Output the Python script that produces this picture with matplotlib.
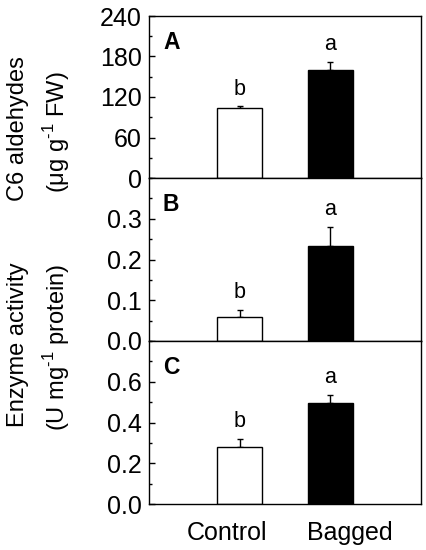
import matplotlib
matplotlib.use("Agg")
import matplotlib.pyplot as plt
import matplotlib.transforms as mtransforms
from matplotlib.ticker import MultipleLocator, FormatStrFormatter

plt.rcParams['font.family'] = ['Liberation Sans', 'DejaVu Sans']
plt.rcParams['mathtext.fontset'] = 'custom'
plt.rcParams['mathtext.rm'] = 'Liberation Sans'

categories = ["Control", "Bagged"]
aldehydes = [104, 160]
aldehydes_err = [2, 12]
enzyme_b = [0.059, 0.233]
enzyme_b_err = [0.016, 0.047]
enzyme_c = [0.279, 0.498]
enzyme_c_err = [0.042, 0.036]
letters_a = ["b", "a"]
letters_b = ["b", "a"]
letters_c = ["b", "a"]
panel_labels = ["A", "B", "C"]

fig = plt.figure(figsize=(4.26, 5.5), dpi=100)
W, H = 426, 550
left, right = 149, 421
tops = [16, 178, 341]
bottoms = [178, 341, 504]

panels = [
    (aldehydes, aldehydes_err, letters_a, 240, 60, "%d"),
    (enzyme_b, enzyme_b_err, letters_b, 0.4, 0.1, "%.1f"),
    (enzyme_c, enzyme_c_err, letters_c, 0.8, 0.2, "%.1f"),
]

x = list(range(len(categories)))
axes = []
for i, (vals, errs, lets, ymax, step, fmt) in enumerate(panels):
    ax = fig.add_axes([left / W, 1 - bottoms[i] / H, (right - left) / W,
                       (bottoms[i] - tops[i]) / H])
    axes.append(ax)
    ax.bar(x, vals, width=0.5, color=["white", "black"], edgecolor="black",
           linewidth=1.0, zorder=2)
    ax.errorbar(x, vals, yerr=[[0] * len(errs), errs], fmt="none",
                ecolor="black", elinewidth=1.0, capsize=2.5, capthick=1.0,
                zorder=1)
    for xi, v, e, l in zip(x, vals, errs, lets):
        ax.annotate(l, xy=(xi, v + e), xytext=(0, 5), textcoords="offset points",
                    ha="center", va="bottom", fontsize=15.5)
    ax.set_xlim(-1, 2)
    ax.set_ylim(0, ymax)
    ax.yaxis.set_major_locator(MultipleLocator(step))
    ax.yaxis.set_minor_locator(MultipleLocator(step / 2))
    ax.yaxis.set_major_formatter(FormatStrFormatter(fmt))
    ticks = [t for t in ax.get_yticks() if t < ymax - 1e-9 or i == 0]
    ax.set_yticks([t for t in ticks if 0 <= t <= ymax + 1e-9])
    ax.tick_params(axis="y", which="major", direction="in", length=4.5,
                   width=1.0, labelsize=18, pad=5)
    ax.tick_params(axis="y", which="minor", direction="in", length=2.5,
                   width=1.0)
    ax.tick_params(axis="y", which="both", right=False)
    for s in ax.spines.values():
        s.set_linewidth(1.0)
    ax.text(14 / (right - left), 1 - 15 / (bottoms[i] - tops[i]),
            panel_labels[i], transform=ax.transAxes, ha="left", va="top",
            fontsize=16.5, fontweight="bold")
    if i < 2:
        ax.set_xticks([])
    else:
        ax.set_xticks(x)
        ax.set_xticklabels(categories, fontsize=18)
        ax.tick_params(axis="x", length=0, pad=12)
        offsets = [-13, 19]
        for lab, off in zip(ax.get_xticklabels(), offsets):
            lab.set_transform(lab.get_transform() +
                              mtransforms.ScaledTranslation(off / 100, 0, fig.dpi_scale_trans))

# y labels
fig.text(18 / W, 1 - 129 / H, "C6 aldehydes", rotation=90, ha="center",
         va="center", fontsize=17)
fig.text(57 / W, 1 - 132 / H, r"(μg g$^{\text{-1}}$ FW)", rotation=90,
         ha="center", va="center", fontsize=17)
fig.text(18 / W, 1 - 345 / H, "Enzyme activity", rotation=90, ha="center",
         va="center", fontsize=17)
fig.text(57 / W, 1 - 347 / H, r"(U mg$^{\text{-1}}$ protein)", rotation=90,
         ha="center", va="center", fontsize=17)

fig.savefig("out.png", dpi=100)
